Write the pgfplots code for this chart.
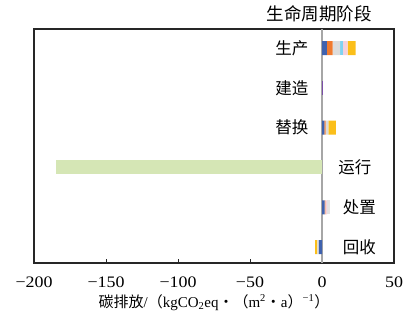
\documentclass[border=0pt]{standalone}
\usepackage{fontspec}
\setmainfont{Liberation Serif}
\newfontfamily\numfont[FakeStretch=1.12]{Liberation Serif}
\newfontfamily\cjk{Noto Sans CJK SC}
\usepackage{pgfplots}
\pgfplotsset{compat=1.18}

\definecolor{cblue}{HTML}{3F62AE}
\definecolor{corange}{HTML}{F07A2E}
\definecolor{cgray}{HTML}{DCDCDC}
\definecolor{clblue}{HTML}{7FD3F2}
\definecolor{cpink}{HTML}{F6D1DC}
\definecolor{cyellow}{HTML}{FBBF1A}
\definecolor{cpurple}{HTML}{7B4FA8}
\definecolor{cgreen}{HTML}{D5E6B5}

\tikzset{stage/.style={font=\cjk\fontsize{16.5}{16.5}\selectfont}}

\begin{document}
\begin{tikzpicture}
\useasboundingbox (0,0) rectangle (407pt,326pt);
\begin{axis}[
    at={(34pt,63pt)}, anchor=south west,
    width=360pt, height=234pt, scale only axis,
    xbar stacked, bar width=14pt,
    xmin=-200, xmax=50, ymin=-0.4, ymax=5.48,
    xtick={-200,-150,-100,-50,0,50},
    xticklabels={−200,−150,−100,−50,0,50},
    ytick=\empty,
    xtick pos=bottom, tick align=inside, major tick length=4pt,
    axis line style={line width=1.2pt, black!85},
    tick style={black!85, line width=0.8pt},
    xticklabel style={font=\numfont\fontsize{16}{16}\selectfont, yshift=-10pt},
    xlabel={{\cjk 碳排放}/{\cjk （}kgCO\textsubscript{2}eq{\cjk ・（}m\textsuperscript{2}{\cjk ・}a{\cjk ）}\textsuperscript{−1}{\cjk ）}},
    xlabel style={font=\fontsize{15}{15}\selectfont, yshift=0pt},
    clip=false,
]
% series: one per colour; rows 5=生产 4=建造 3=替换 2=运行 1=处置 0=回收
\addplot[fill=cblue, draw=none] coordinates {(3.3,5) (0,4) (1.6,3) (0,2) (1.8,1) (-2.2,0)};
\addplot[fill=corange, draw=none] coordinates {(4.1,5) (0,4) (0.9,3) (0,2) (0.6,1) (0,0)};
\addplot[fill=cgray, draw=none] coordinates {(5.1,5) (0,4) (2.0,3) (0,2) (0,1) (-1.0,0)};
\addplot[fill=clblue, draw=none] coordinates {(1.9,5) (0,4) (0,3) (0,2) (0,1) (0,0)};
\addplot[fill=cpink, draw=none] coordinates {(3.4,5) (0,4) (0,3) (0,2) (1.2,1) (0,0)};
\addplot[fill=cyellow, draw=none] coordinates {(5.6,5) (0,4) (5.2,3) (0,2) (0,1) (-1.6,0)};
\addplot[fill=cpurple, draw=none] coordinates {(0,5) (1.0,4) (0,3) (0,2) (0,1) (0,0)};
\addplot[fill=cgreen, draw=none] coordinates {(0,5) (0,4) (0,3) (-185,2) (0,1) (0,0)};
\addplot[fill=cgray!80, draw=none] coordinates {(0,5) (0,4) (0,3) (0,2) (1.9,1) (0,0)};

\draw[gray!70, line width=1.2pt] (axis cs:0,-0.4) -- (axis cs:0,5.48);
\node[stage, anchor=east] at (axis cs:-7,5) {生产};
\node[stage, anchor=east] at (axis cs:-7,4) {建造};
\node[stage, anchor=east] at (axis cs:-7,3) {替换};
\node[stage, anchor=west] at (axis cs:9,2) {运行};
\node[stage, anchor=west] at (axis cs:12,1) {处置};
\node[stage, anchor=west] at (axis cs:12,0) {回收};
\node[stage, font=\cjk\fontsize{17.5}{17.5}\selectfont, yshift=15pt] at (axis cs:-2,5.48) {生命周期阶段};
\end{axis}
\end{tikzpicture}
\end{document}
